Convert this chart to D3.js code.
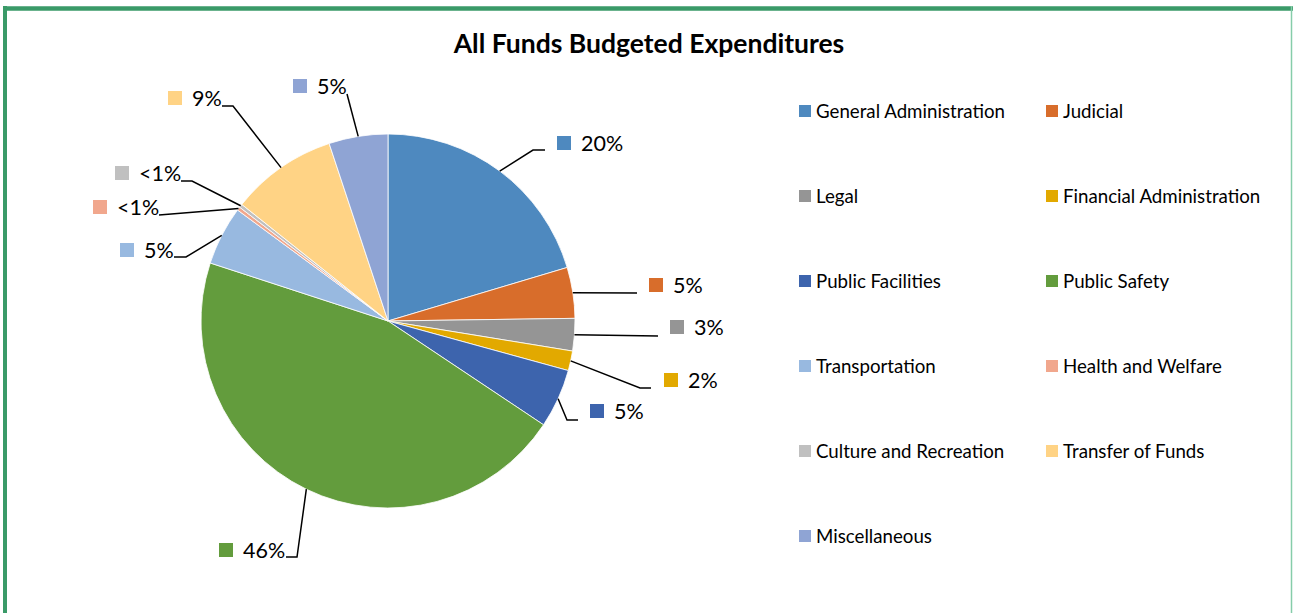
<!DOCTYPE html>
<html>
<head>
<meta charset="utf-8">
<script src="https://cdn.jsdelivr.net/npm/d3@7"></script>
<style>
  html, body { margin: 0; padding: 0; background: #fff; }
  svg { display: block; }
  text { font-family: Lato, "Liberation Sans", sans-serif; fill: #000; }
</style>
</head>
<body>
<svg id="chart" width="1293" height="613"></svg>
<script>
// ---- data ----
const categories = ["General Administration", "Judicial", "Legal", "Financial Administration",
  "Public Facilities", "Public Safety", "Transportation", "Health and Welfare",
  "Culture and Recreation", "Transfer of Funds", "Miscellaneous"];
const values = [20.4, 4.4, 2.8, 1.7, 5.1, 45.7, 5.1, 0.3, 0.3, 9.2, 5.1];
const labelTexts = ["20%", "5%", "3%", "2%", "5%", "46%", "5%", "<1%", "<1%", "9%", "5%"];
const colors = ["#4E89BF", "#D86D2B", "#959595", "#E2A900", "#3D64AD", "#639C3D",
  "#98B9E0", "#F1A78D", "#C0C0C0", "#FFD385", "#8FA4D4"];
const title = "All Funds Budgeted Expenditures";

// ---- layout (label placement: square x, square y, elbow x, elbow y, horizontal end x) ----
const labelLayout = [
  [557, 136, 533, 150, 545],
  [649, 278, 637, 293, null],
  [670, 320, 658, 336, null],
  [664, 373, 640, 388, 651],
  [590, 404, 567, 420, 578],
  [219, 543, 297, 557, 286],
  [120, 243, 186, 257, 174],
  [93, 200, 159, 215, null],
  [115, 166, 192, 181, 181],
  [168, 91, 233, 106, 222],
  [293, 79, 347, 94, null]
];

const svg = d3.select("#chart");
const W = 1293, H = 613;
const cx = 388, cy = 321, R = 187;

// border
svg.append("line").attr("x1", 3).attr("x2", 1293).attr("y1", 8.5).attr("y2", 8.5)
  .attr("stroke", "#3A9A68").attr("stroke-width", 4.5);
svg.append("line").attr("x1", 5).attr("x2", 5).attr("y1", 6).attr("y2", H)
  .attr("stroke", "#3A9A68").attr("stroke-width", 4);
svg.append("line").attr("x1", 1291.5).attr("x2", 1291.5).attr("y1", 6).attr("y2", H)
  .attr("stroke", "#86CDAA").attr("stroke-width", 1.5);

// title
svg.append("text").attr("x", 649).attr("y", 53).attr("text-anchor", "middle")
  .style("font-weight", "bold").style("font-size", "26.5px").text(title);

// pie
const data = categories.map((c, i) => ({ name: c, value: values[i], i }));
const pie = d3.pie().value(d => d.value).sort(null);
const arcs = pie(data);
const arc = d3.arc().innerRadius(0).outerRadius(R);
const color = d3.scaleOrdinal().domain(categories).range(colors);

const g = svg.append("g").attr("transform", `translate(${cx},${cy})`);
g.selectAll("path.slice").data(arcs).enter().append("path")
  .attr("class", "slice")
  .attr("d", arc)
  .attr("fill", d => color(d.data.name))
  .attr("stroke", "#fff").attr("stroke-width", 0.8);

// leader lines + labels
const lg = svg.append("g");
arcs.forEach((a, i) => {
  const mid = (a.startAngle + a.endAngle) / 2;
  const sx = cx + R * Math.sin(mid), sy = cy - R * Math.cos(mid);
  const [qx, qy, ex, ey, hx] = labelLayout[i];
  const pts = [[sx, sy], [ex, ey]];
  if (hx !== null) pts.push([hx, ey]);
  lg.append("path").attr("d", d3.line()(pts)).attr("fill", "none")
    .attr("stroke", "#000").attr("stroke-width", 1.5);
  lg.append("rect").attr("x", qx).attr("y", qy).attr("width", 14).attr("height", 14)
    .attr("fill", color(a.data.name));
  lg.append("text").attr("x", qx + 24).attr("y", qy + 15)
    .style("font-size", "21.5px").text(labelTexts[i]);
});

// legend
const leg = svg.append("g");
categories.forEach((c, i) => {
  const col = i % 2, row = Math.floor(i / 2);
  const x = col === 0 ? 799 : 1046;
  const y = 105 + row * 85;
  leg.append("rect").attr("x", x).attr("y", y).attr("width", 12).attr("height", 12)
    .attr("fill", color(c));
  leg.append("text").attr("x", x + 17).attr("y", y + 12.5)
    .style("font-size", "18.7px").text(c);
});
</script>
</body>
</html>
